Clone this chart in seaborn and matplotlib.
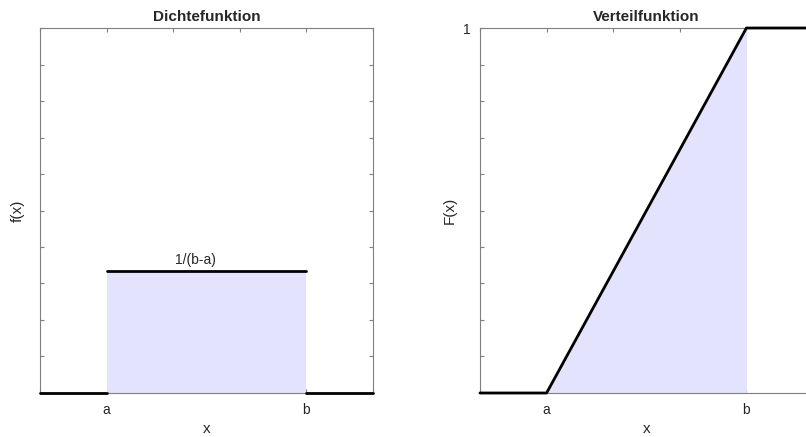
import numpy as np
import pandas as pd
import matplotlib
matplotlib.use("Agg")
import matplotlib.pyplot as plt
import seaborn as sns

# --- data ---
a_pos = 1
b_pos = 4
x_min, x_max = 0, 5
xtick_pos = [0, 1, 2, 3, 4, 5]
xtick_lab = ["", "a", "", "", "b", ""]
ytick_pos = [0.0, 0.1, 0.2, 0.3, 0.4, 0.5, 0.6, 0.7, 0.8, 0.9, 1.0]

# density: three pieces (no vertical jumps drawn)
pdf_seg = [0, 0, 1, 1, 2, 2]
pdf_x = [0, 1, 1, 4, 4, 5]
pdf_y = [0, 0, 1 / 3, 1 / 3, 0, 0]

# distribution function
cdf_x = [0, 1, 4, 5]
cdf_y = [0, 0, 1, 1]

fill_col = "#e3e3fd"
spine_col = "#7f7f7f"

sns.set_style("white")
plt.rcParams["font.family"] = ["Liberation Sans", "DejaVu Sans"]

fig = plt.figure(figsize=(8.06, 4.37), dpi=100)
ax1 = fig.add_axes([0.0496, 0.1007, 0.4132, 0.8352])
ax2 = fig.add_axes([0.5955, 0.1007, 0.4132, 0.8352])


def style_axes(ax):
    ax.set_xlim(x_min, x_max)
    ax.set_ylim(0, 1)
    ax.set_xticks(xtick_pos)
    ax.set_xticklabels(xtick_lab)
    ax.set_yticks(ytick_pos)
    ax.tick_params(direction="in", length=3, width=0.8, color=spine_col,
                   bottom=True, left=True, top=True, right=True,
                   labelsize=10, labelcolor="#262626", pad=7)
    for s in ax.spines.values():
        s.set_color(spine_col)
        s.set_linewidth(0.8)
        s.set_visible(True)
    ax.set_xlabel("x", fontsize=11, color="#262626", labelpad=4)


# --- Dichtefunktion ---
pdf_df = pd.DataFrame({"seg": pdf_seg, "x": pdf_x, "y": pdf_y})
ax1.fill_between([a_pos, b_pos], [1 / 3, 1 / 3], 0, color=fill_col, lw=0, zorder=1)
sns.lineplot(data=pdf_df, x="x", y="y", units="seg", estimator=None,
             color="black", lw=2, ax=ax1, zorder=3, clip_on=False)
style_axes(ax1)
ax1.set_yticklabels([""] * len(ytick_pos))
ax1.set_ylabel("f(x)", fontsize=11, color="#262626")
ax1.set_title("Dichtefunktion", fontsize=11, fontweight="bold", pad=5)
ax1.text(2.33, 1 / 3 + 0.03, "1/(b-a)", ha="center", va="center",
         fontsize=10, color="#262626")

# --- Verteilfunktion ---
cdf_df = pd.DataFrame({"x": cdf_x, "y": cdf_y})
ax2.fill_between(cdf_x[1:3], cdf_y[1:3], 0, color=fill_col, lw=0, zorder=1)
sns.lineplot(data=cdf_df, x="x", y="y", color="black", lw=2, ax=ax2, zorder=3, clip_on=False)
style_axes(ax2)
ax2.set_yticklabels(["" if v < 1 else "1" for v in ytick_pos])
ax2.set_ylabel("F(x)", fontsize=11, color="#262626")
ax2.set_title("Verteilfunktion", fontsize=11, fontweight="bold", pad=5)

fig.savefig("out.png", dpi=100)
